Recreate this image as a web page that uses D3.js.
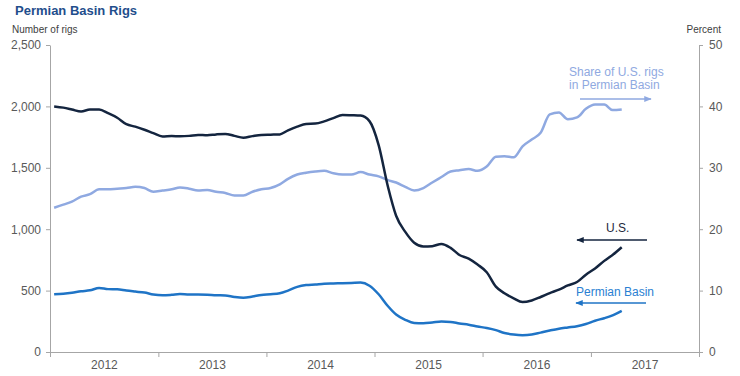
<!DOCTYPE html>
<html lang="en">
<head>
  <meta charset="UTF-8">
  <title>Permian Basin Rigs</title>
  <script src="https://d3js.org/d3.v7.min.js"></script>
  <style>
    body { margin: 0; background: #fff; }
    svg { display: block; font-family: "Liberation Sans", Arial, sans-serif; }
    .axis path, .axis line { stroke: #a6a6a6; }
    .axis text { fill: #595959; font-size: 12px; }
    .line { fill: none; stroke-width: 2.5; stroke-linejoin: round; }
  </style>
</head>
<body>
  <svg width="740" height="376"></svg>

  <script>
    // Monthly values, Jan 2012 - Apr 2017
    const firstMonth = new Date(2012, 0, 15);

    const usRigs = [
      2000, 1990, 1975, 1958, 1975, 1974, 1945, 1908, 1855, 1835, 1810, 1782,
      1755, 1758, 1757, 1760, 1768, 1765, 1772, 1776, 1760, 1745, 1758, 1768,
      1770, 1772, 1805, 1835, 1857, 1860, 1878, 1905, 1930, 1928, 1925, 1880,
      1685, 1350, 1110, 978, 890, 860, 862, 880, 848, 790, 760, 712,
      650, 532, 478, 437, 407, 420, 448, 480, 508, 542, 570, 630,
      680, 742, 790, 853
    ];

    const permianRigs = [
      470, 475, 483, 495, 502, 522, 512, 510, 500, 492, 484, 468,
      462, 466, 472, 468, 468, 466, 462, 460, 448, 442, 452, 465,
      470, 478, 500, 530, 545, 550, 556, 558, 560, 562, 565, 540,
      470, 375, 305, 262, 236, 234, 240, 248, 245, 232, 222, 208,
      195, 178, 155, 142, 137, 142, 158, 175, 190, 200, 210, 228,
      255, 275, 298, 335
    ];

    const permianShare = [
      23.5, 24.0, 24.5, 25.3, 25.7, 26.5, 26.5, 26.6, 26.7, 26.9, 26.7, 26.1,
      26.3, 26.5, 26.8, 26.6, 26.3, 26.4, 26.1, 25.9, 25.5, 25.5, 26.1, 26.5,
      26.7, 27.3, 28.2, 28.9, 29.2, 29.4, 29.5, 29.1, 28.9, 28.9, 29.3, 28.9,
      28.6, 28.0, 27.6, 26.9, 26.3, 26.7, 27.6, 28.5, 29.4, 29.6, 29.8, 29.5,
      30.2, 31.8, 31.9, 31.7, 33.5, 34.6, 35.7, 38.7, 39.0, 37.9, 38.2, 39.6,
      40.3, 40.3, 39.4, 39.5
    ];

    const years = ["2012", "2013", "2014", "2015", "2016", "2017"];
    const rigTicks = [0, 500, 1000, 1500, 2000, 2500];
    const percentTicks = [0, 10, 20, 30, 40, 50];

    const months = d3.timeMonth.range(d3.timeMonth.floor(firstMonth), new Date(2017, 4, 1))
      .map(d => new Date(d.getFullYear(), d.getMonth(), 15));

    const colors = { us: "#14253f", permian: "#1f74c6", share: "#8fa9e1" };

    const svg = d3.select("svg");
    const margin = { top: 45, right: 41, bottom: 24, left: 50 };
    const width = 740, height = 376;

    const x = d3.scaleTime()
      .domain([new Date(2012, 0, 1), new Date(2018, 0, 1)])
      .range([margin.left, width - margin.right]);

    const yLeft = d3.scaleLinear()
      .domain([0, 2500])
      .range([height - margin.bottom, margin.top]);

    const yRight = d3.scaleLinear()
      .domain([0, 50])
      .range([height - margin.bottom, margin.top]);

    // Title and axis titles
    svg.append("text")
      .attr("x", 15).attr("y", 15)
      .attr("fill", "#1f4e8c")
      .style("font-size", "13px").style("font-weight", "bold")
      .text("Permian Basin Rigs");

    svg.append("text")
      .attr("x", 12).attr("y", 33)
      .attr("fill", "#404040").style("font-size", "10px")
      .text("Number of rigs");

    svg.append("text")
      .attr("x", 721).attr("y", 33)
      .attr("text-anchor", "end")
      .attr("fill", "#404040").style("font-size", "10px")
      .text("Percent");

    // Axes
    svg.append("g")
      .attr("class", "axis")
      .attr("transform", `translate(${margin.left},0)`)
      .call(d3.axisLeft(yLeft).tickValues(rigTicks).tickFormat(d3.format(",")).tickSize(4).tickSizeOuter(0).tickPadding(5));

    svg.append("g")
      .attr("class", "axis")
      .attr("transform", `translate(${width - margin.right},0)`)
      .call(d3.axisRight(yRight).tickValues(percentTicks).tickSize(4).tickSizeOuter(0).tickPadding(6));

    const yearStarts = years.map(y => new Date(+y, 0, 1)).concat([new Date(2018, 0, 1)]);
    svg.append("g")
      .attr("class", "axis")
      .attr("transform", `translate(0,${height - margin.bottom})`)
      .call(d3.axisBottom(x).tickValues(yearStarts).tickFormat("").tickSize(5).tickSizeOuter(0));

    svg.append("g")
      .attr("class", "axis")
      .attr("transform", `translate(0,${height - margin.bottom})`)
      .call(d3.axisBottom(x).tickValues(years.map(y => new Date(+y, 6, 1))).tickFormat(d3.timeFormat("%Y")).tickSize(0).tickPadding(8))
      .call(g => g.select(".domain").remove());

    // Lines
    const seriesLeft = (vals) => d3.line()
      .x((d, i) => x(months[i]))
      .y(d => yLeft(d))
      .curve(d3.curveMonotoneX)(vals);

    const shareLine = d3.line()
      .x((d, i) => x(months[i]))
      .y(d => yRight(d))
      .curve(d3.curveMonotoneX);

    svg.append("path").attr("class", "line")
      .attr("stroke", colors.share).attr("d", shareLine(permianShare));

    svg.append("path").attr("class", "line")
      .attr("stroke", colors.permian).attr("d", seriesLeft(permianRigs));

    svg.append("path").attr("class", "line")
      .attr("stroke", colors.us).attr("d", seriesLeft(usRigs));

    // Arrow markers
    const defs = svg.append("defs");
    Object.entries(colors).forEach(([k, c]) => {
      defs.append("marker")
        .attr("id", "arrow-" + k)
        .attr("viewBox", "0 0 10 10")
        .attr("refX", 9).attr("refY", 5)
        .attr("markerWidth", 5).attr("markerHeight", 5)
        .attr("orient", "auto")
        .append("path")
        .attr("d", "M0,1 L10,5 L0,9 Z")
        .attr("fill", c);
    });

    // Annotations
    const notes = [
      { key: "share", lines: ["Share of U.S. rigs", "in Permian Basin"], tx: 569, ty: 76, from: [580, 99], to: [651, 99] },
      { key: "us", lines: ["U.S."], tx: 606, ty: 232, from: [647, 240], to: [577, 240] },
      { key: "permian", lines: ["Permian Basin"], tx: 576, ty: 296, from: [646, 303], to: [576, 303] }
    ];

    notes.forEach(n => {
      const t = svg.append("text")
        .attr("x", n.tx).attr("y", n.ty)
        .attr("fill", n.key === "us" ? "#1f2a3c" : (n.key === "share" ? colors.share : "#2a80d2"))
        .style("font-size", "12px");
      n.lines.forEach((s, i) => {
        t.append("tspan").attr("x", n.tx).attr("dy", i === 0 ? 0 : 13).text(s);
      });
      svg.append("line")
        .attr("x1", n.from[0]).attr("y1", n.from[1])
        .attr("x2", n.to[0]).attr("y2", n.to[1])
        .attr("stroke", colors[n.key]).attr("stroke-width", 1.5)
        .attr("marker-end", `url(#arrow-${n.key})`);
    });
  </script>
</body>
</html>
